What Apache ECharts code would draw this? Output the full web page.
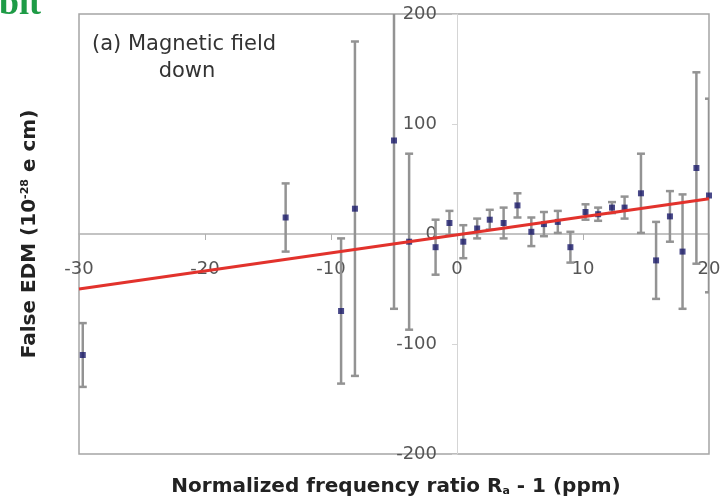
<!DOCTYPE html>
<html>
<head>
<meta charset="utf-8">
<script src="https://cdn.jsdelivr.net/npm/echarts@6/dist/echarts.min.js"></script>
<style>
html,body{margin:0;padding:0;background:#fff;}
#chart{width:725px;height:501px;}
</style>
</head>
<body>
<div id="chart"></div>
<script>
// Data
var pointX = [-29.7, -13.6, -9.2, -8.1, -5.0, -3.8, -1.7, -0.6, 0.5, 1.6, 2.6, 3.7, 4.8, 5.9, 6.9, 8.0, 9.0, 10.2, 11.2, 12.3, 13.3, 14.6, 15.8, 16.9, 17.9, 19.0, 20.0];
var pointY = [-110, 15, -70, 23, 85, -7, -12, 10, -7, 5, 13, 10, 26, 2, 9, 11, -12, 20, 18, 24, 24, 37, -24, 16, -16, 60, 35];
var pointErr = [29, 31, 66, 152, 153, 80, 25, 11, 15, 9, 9, 14, 11, 13, 11, 10, 14, 7, 6, 5, 10, 36, 35, 23, 52, 87, 88];
var fitX = [-30, 20];
var fitY = [-50, 32];
var xTicks = [-30, -20, -10, 0, 10, 20];
var yTicks = [-200, -100, 0, 100, 200];

var points = pointX.map(function (x, i) { return [x, pointY[i], pointErr[i]]; });
var fit = fitX.map(function (x, i) { return [x, fitY[i]]; });

var chart = echarts.init(document.getElementById('chart'), null, {renderer: 'canvas'});
var labelFont = '18px "DejaVu Sans"';
var labelColor = '#555';

chart.setOption({
  animation: false,
  backgroundColor: '#fff',
  grid: {left: 79, top: 14, right: 16, bottom: 47, show: true, borderColor: '#a5a5a5', borderWidth: 1.5, backgroundColor: 'transparent'},
  xAxis: {
    type: 'value', min: xTicks[0], max: xTicks[xTicks.length - 1], interval: 10,
    axisLine: {onZero: true, lineStyle: {color: '#b0b0b0', width: 1.5}},
    axisTick: {show: true, length: 6, lineStyle: {color: '#b0b0b0'}},
    axisLabel: {show: false},
    splitLine: {show: false}
  },
  yAxis: {
    type: 'value', min: yTicks[0], max: yTicks[yTicks.length - 1], interval: 100,
    axisLine: {show: true, onZero: true, lineStyle: {color: '#d5d5d5', width: 1}},
    axisTick: {show: true, length: 5, lineStyle: {color: '#d5d5d5'}},
    axisLabel: {show: false},
    splitLine: {show: false}
  },
  series: [
    {
      // x tick labels placed through the axis scale
      type: 'custom', clip: false, z: 1, silent: true,
      data: xTicks.map(function (v) { return [v, 0]; }),
      renderItem: function (params, api) {
        var c = api.coord([api.value(0), 0]);
        return {type: 'text', x: c[0], y: c[1] + 35,
          style: {text: String(api.value(0)), fill: labelColor, font: labelFont, align: 'center', verticalAlign: 'middle'}};
      }
    },
    {
      // y tick labels placed through the axis scale
      type: 'custom', clip: false, z: 1, silent: true,
      data: yTicks.map(function (v) { return [0, v]; }),
      renderItem: function (params, api) {
        var c = api.coord([0, api.value(1)]);
        return {type: 'text', x: c[0] - 20, y: c[1],
          style: {text: String(api.value(1)), fill: labelColor, font: labelFont, align: 'right', verticalAlign: 'middle'}};
      }
    },
    {
      type: 'custom',
      clip: true,
      z: 2,
      data: points,
      renderItem: function (params, api) {
        var x = api.value(0), y = api.value(1), e = api.value(2);
        var t = api.coord([x, y + e]);
        var b = api.coord([x, y - e]);
        var hw = 4;
        var st = {stroke: '#939393', lineWidth: 2.5};
        return {
          type: 'group',
          children: [
            {type: 'line', shape: {x1: t[0], y1: t[1], x2: b[0], y2: b[1]}, style: st},
            {type: 'line', shape: {x1: t[0] - hw, y1: t[1], x2: t[0] + hw, y2: t[1]}, style: st},
            {type: 'line', shape: {x1: b[0] - hw, y1: b[1], x2: b[0] + hw, y2: b[1]}, style: st}
          ]
        };
      }
    },
    {
      type: 'scatter',
      z: 3,
      symbol: 'rect',
      symbolSize: 6,
      itemStyle: {color: '#1c1c6c'},
      data: points.map(function (p) { return [p[0], p[1]]; })
    },
    {
      type: 'line',
      z: 4,
      data: fit,
      symbol: 'none',
      lineStyle: {color: '#e2322c', width: 3}
    }
  ],
  graphic: [
    {
      type: 'text', left: 92, top: 34,
      style: {text: '(a) Magnetic field', fill: '#333', font: '21px "DejaVu Sans"'}
    },
    {
      type: 'text', x: 187, y: 72,
      style: {text: 'down', fill: '#333', font: '21px "DejaVu Sans"', align: 'center', verticalAlign: 'middle'}
    },
    {
      type: 'text', x: 396, y: 487,
      style: {
        text: 'Normalized frequency ratio R{sub|a} - 1 (ppm)',
        fill: '#222', font: 'bold 20px "DejaVu Sans"', align: 'center', verticalAlign: 'middle',
        rich: {sub: {fontSize: 11, fontWeight: 'bold', fontFamily: 'DejaVu Sans', fill: '#222', padding: [8, 0, 0, 0]}}
      }
    },
    {
      type: 'text', x: 30, y: 234, rotation: Math.PI / 2,
      style: {
        text: 'False EDM (10{sup|-28} e cm)',
        fill: '#222', font: 'bold 20px "DejaVu Sans"', align: 'center', verticalAlign: 'middle',
        rich: {sup: {fontSize: 11, fontWeight: 'bold', fontFamily: 'DejaVu Sans', fill: '#222', padding: [0, 0, 10, 0]}}
      }
    },
    {
      type: 'text', x: -1, y: 5,
      style: {text: 'bit', fill: '#1e9b46', font: 'bold 36px "Liberation Serif"', align: 'left', verticalAlign: 'middle'}
    }
  ]
});
</script>
</body>
</html>
